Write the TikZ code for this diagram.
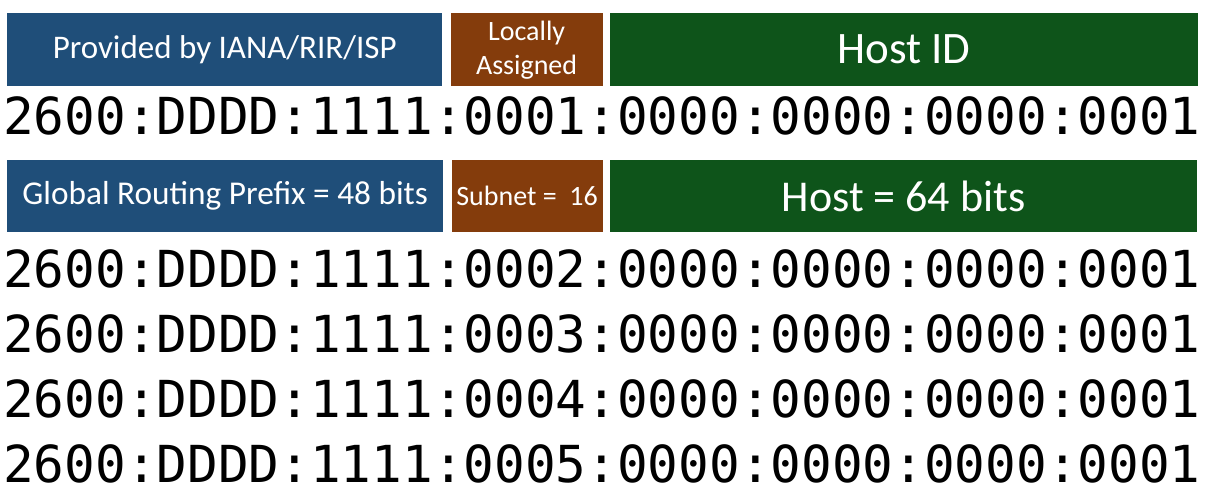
\documentclass[tikz,border=0pt]{standalone}
\usepackage{fontspec}
\setmainfont{Carlito}
\newfontfamily\addrfont{DejaVu Sans Mono}
\usetikzlibrary{positioning}
\definecolor{ianablue}{RGB}{31,78,121}
\definecolor{localbrown}{RGB}{132,60,12}
\definecolor{hostgreen}{RGB}{14,84,26}
\tikzset{
  field/.style={fill=#1, text=white, inner sep=0pt, minimum height=73pt, align=center},
  addr/.style={font=\addrfont\fontsize{51}{60}\selectfont, inner sep=0pt, anchor=base west},
}

\begin{document}
\begin{tikzpicture}[x=1pt, y=-1pt]
  \useasboundingbox[fill=white] (0,0) rectangle (1212,497);

  % Define nodes
  \node[field=ianablue, minimum width=435pt, anchor=north west, font=\fontsize{33}{36}\selectfont] (Provided) at (7,13) {Provided by IANA/RIR/ISP};
  \node[field=localbrown, minimum width=152pt, right=8pt of Provided, font=\fontsize{28}{34}\selectfont] (Local) {Locally\\Assigned};
  \node[field=hostgreen, minimum width=588pt, right=7pt of Local, font=\fontsize{45}{50}\selectfont] (HostID) {Host ID};

  \node[addr] (Addr1) at (3,135) {2600:DDDD:1111:0001:0000:0000:0000:0001};

  \node[field=ianablue, minimum width=436pt, minimum height=72pt, anchor=north west, font=\fontsize{33.3}{36}\selectfont] (Global) at (7,160) {Global Routing Prefix = 48 bits};
  \node[field=localbrown, minimum width=151pt, minimum height=72pt, right=8pt of Global, font=\fontsize{28}{34}\selectfont] (Subnet) {Subnet =\ \ 16};
  \node[field=hostgreen, minimum width=587pt, minimum height=72pt, right=7pt of Subnet, font=\fontsize{44}{50}\selectfont] (Host) {Host = 64 bits};

  % Subnets
  \foreach \n/\y in {2/287,3/352,4/417,5/482}
    \node[addr] (Addr\n) at (3,\y) {2600:DDDD:1111:000\n:0000:0000:0000:0001};

\end{tikzpicture}
\end{document}
